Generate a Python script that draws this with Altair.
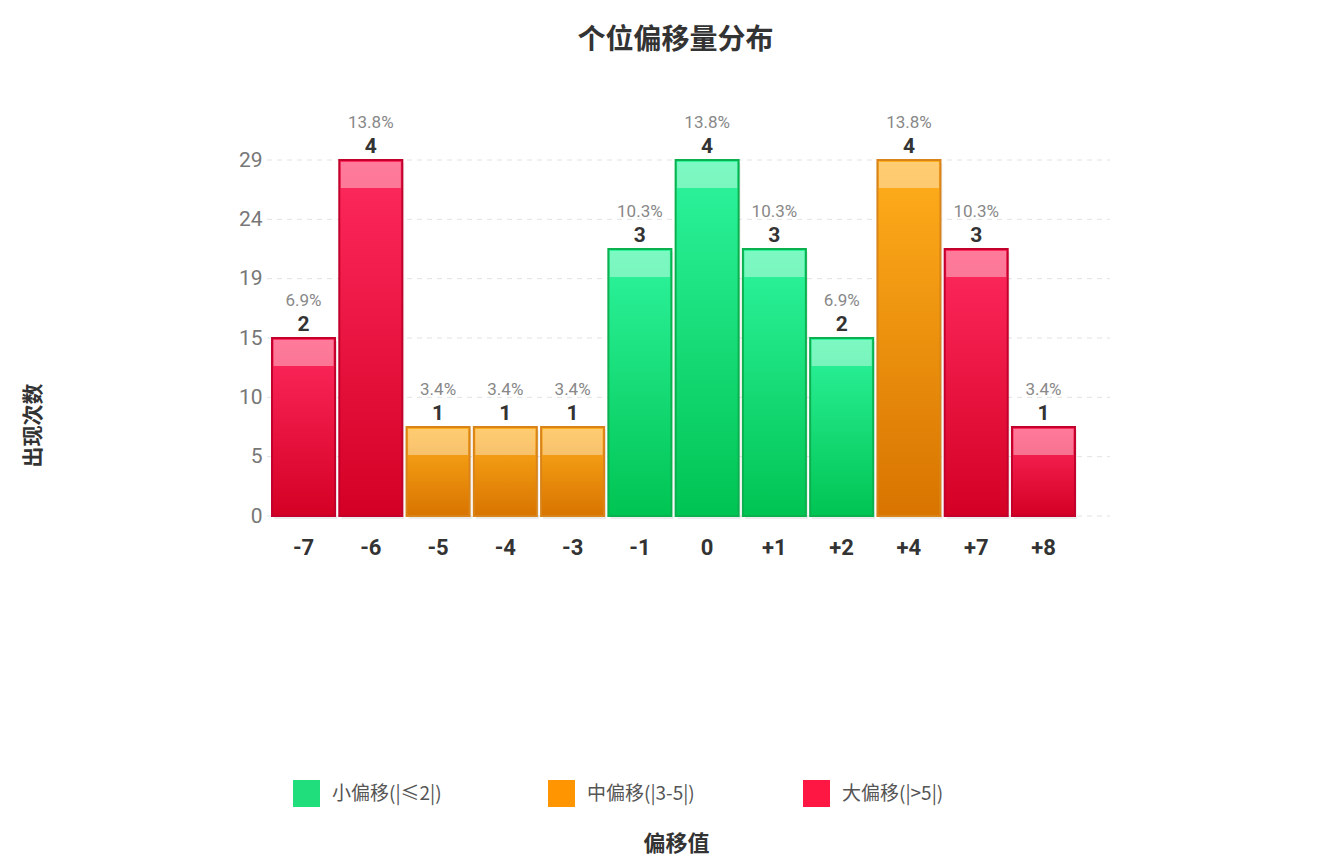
import altair as alt
import pandas as pd

# ---- data ----
offsets = ["-7", "-6", "-5", "-4", "-3", "-1", "0", "+1", "+2", "+4", "+7", "+8"]
counts = [2, 4, 1, 1, 1, 3, 4, 3, 2, 4, 3, 1]
percents = ["6.9%", "13.8%", "3.4%", "3.4%", "3.4%", "10.3%", "13.8%", "10.3%", "6.9%", "13.8%", "10.3%", "3.4%"]
group_names = ["小偏移(|≤2|)", "中偏移(|3-5|)", "大偏移(|>5|)"]
group_of_bar = [2, 2, 1, 1, 1, 0, 0, 0, 0, 1, 2, 2]
group_colors = ["#1fde7b", "#ff9500", "#ff1744"]
y_tick_labels = ["0", "5", "10", "15", "19", "24", "29"]

df = pd.DataFrame({
    "offset": offsets,
    "count": counts,
    "pct": percents,
    "group": [group_names[g] for g in group_of_bar],
})

tick_vals = [i * 4 / 6 for i in range(len(y_tick_labels))]
grid_df = pd.DataFrame({"count": tick_vals})

gradients = {
    group_names[0]: (["#2ef59e", "#00c452"], "#0bb04f"),
    group_names[1]: (["#ffae1c", "#d87400"], "#d9841a"),
    group_names[2]: (["#ff2a5e", "#d40024"], "#c3002b"),
}

LATIN = "Roboto, Noto Sans CJK SC, sans-serif"
CJK = "Noto Sans CJK SC, sans-serif"

x_enc = alt.X(
    "offset:N",
    sort=offsets,
    scale=alt.Scale(range=[3, 810], paddingInner=0.063, paddingOuter=0.03),
    axis=alt.Axis(
        title="偏移值",
        titleFont=CJK, titleFontSize=22, titleFontWeight="bold", titleColor="#333333",
        titleX=409, titleY=327, titleAlign="center", titleBaseline="middle",
        labelFont=LATIN, labelFontSize=22, labelFontWeight="bold", labelColor="#333333",
        labelPadding=21, labelAngle=0, domain=False, ticks=False, grid=False,
    ),
)

label_arr = "[" + ",".join("'" + t + "'" for t in y_tick_labels) + "]"

y_scale = alt.Scale(domain=[0, 4], nice=False)

y_axis = alt.Axis(
    title="出现次数",
    titleFont=CJK, titleFontSize=21, titleFontWeight="bold", titleColor="#333333",
    titleX=-234, titleY=265, titleAngle=-90, titleAlign="center", titleBaseline="middle",
    values=tick_vals,
    labelExpr=label_arr + "[round(datum.value * 1.5)]",
    labelFont=LATIN, labelFontSize=21, labelColor="#777777", labelPadding=5,
    domain=False, ticks=False, grid=False,
)

y_enc = alt.Y("count:Q", scale=y_scale, axis=y_axis)

color_enc = alt.Color(
    "group:N",
    scale=alt.Scale(domain=group_names, range=group_colors),
    legend=alt.Legend(
        title=None, orient="none", legendX=26, legendY=620, direction="horizontal",
        columns=3, gridAlign="all", columnPadding=106, symbolType="square", symbolSize=729,
        symbolStrokeWidth=0, symbolOpacity=1, labelFont=CJK, labelFontSize=19,
        labelColor="#555555", labelOffset=12, padding=0,
    ),
)

grid = alt.Chart(grid_df).mark_rule(color="#e2e2e2", strokeDash=[5, 5], strokeWidth=1).encode(
    x=alt.value(0), x2=alt.value(843),
    y=y_enc,
)

base = alt.Chart(df)

legend_layer = base.mark_bar(opacity=0).encode(x=x_enc, y=y_enc, color=color_enc)

shadow = base.mark_bar(color="#000000", opacity=0.07, xOffset=2, yOffset=3).encode(x=x_enc, y=y_enc)

layers = [grid, legend_layer, shadow]
for g in group_names:
    stops, stroke = gradients[g]
    layers.append(
        base.transform_filter(alt.datum.group == g).mark_bar(
            color=alt.Gradient(
                gradient="linear",
                stops=[alt.GradientStop(color=stops[0], offset=0),
                       alt.GradientStop(color=stops[1], offset=1)],
                x1=0, x2=0, y1=0, y2=1,
            ),
            stroke=stroke, strokeWidth=2,
        ).encode(x=x_enc, y=y_enc)
    )

highlight = base.mark_tick(color="white", opacity=0.38, thickness=26, size=60, yOffset=15).encode(
    x=x_enc, y=y_enc
)

count_text = base.mark_text(
    baseline="bottom", dy=-3, font=LATIN, fontSize=21, fontWeight="bold", color="#333333"
).encode(x=x_enc, y=y_enc, text="count:Q")

pct_text = base.mark_text(
    baseline="bottom", dy=-28, font=LATIN, fontSize=17, color="#888888"
).encode(x=x_enc, y=y_enc, text="pct:N")

chart = alt.layer(*layers, highlight, count_text, pct_text).resolve_scale(x="shared", y="shared").properties(
    width=843,
    height=356,
    view=alt.ViewBackground(stroke="transparent", strokeWidth=0),
    title=alt.TitleParams(
        text="个位偏移量分布", font=CJK, fontSize=28, fontWeight="bold", color="#333333",
        anchor="middle", dx=-13, offset=59,
    ),
    autosize=alt.AutoSizeParams(type="none"),
    padding={"left": 259, "top": 152, "right": 214, "bottom": 343},
).configure_view(stroke="transparent", strokeWidth=0).configure(background="white")

chart.save("out.html", embed_options={"renderer": "svg", "actions": False})
